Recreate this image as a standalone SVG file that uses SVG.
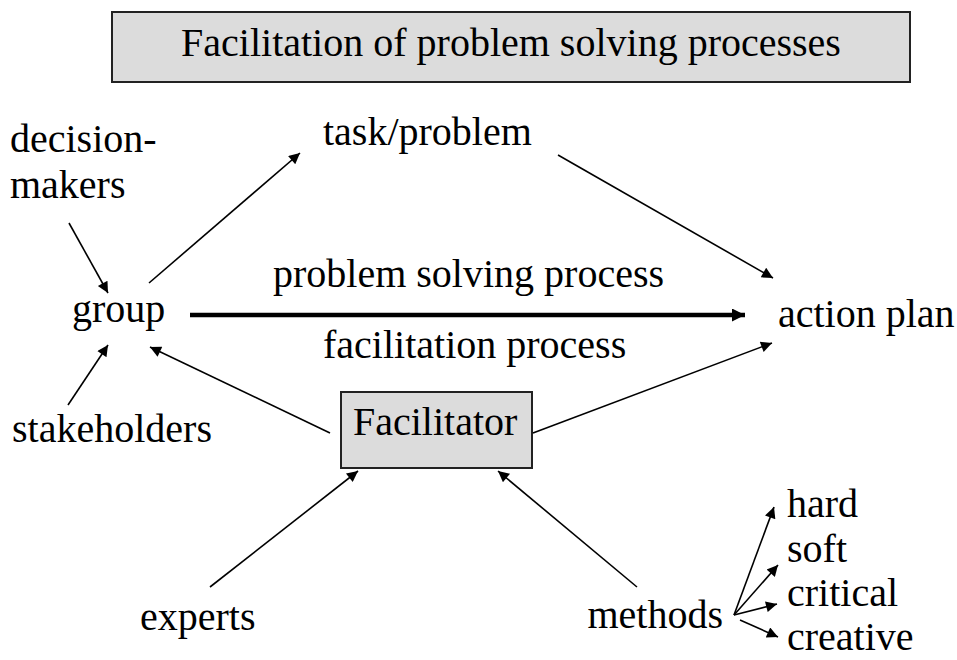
<svg xmlns="http://www.w3.org/2000/svg" width="957" height="660" viewBox="0 0 957 660">
  <style>
    .lbl { font-family: "Liberation Serif", "Times New Roman", "DejaVu Serif", serif; font-size: 40px; fill: #000; }
    .box { fill: #dcdcdc; stroke: #222; stroke-width: 2; }
    .conn { stroke: #000; stroke-width: 1.6; fill: none; marker-end: url(#arrow); }
    .main { stroke: #000; stroke-width: 4.5; fill: none; marker-end: url(#arrowBig); }
  </style>
  <defs>
    <marker id="arrow" viewBox="0 0 10 10" refX="10" refY="5" markerUnits="userSpaceOnUse" markerWidth="15" markerHeight="11" orient="auto">
      <path d="M0,0 L10,5 L0,10 z" fill="#000"/>
    </marker>
    <marker id="arrowBig" viewBox="0 0 10 10" refX="10" refY="5" markerUnits="userSpaceOnUse" markerWidth="16" markerHeight="13" orient="auto">
      <path d="M0,0 L10,5 L0,10 z" fill="#000"/>
    </marker>
  </defs>
  <rect width="957" height="660" fill="#fff"/>

  <!-- heading -->
  <g id="title">
    <rect class="box" x="112" y="12" width="798" height="70"/>
    <text class="lbl" x="511" y="56" text-anchor="middle">Facilitation of problem solving processes</text>
  </g>

  <g id="decision-makers">
    <text class="lbl" x="10" y="152">decision-</text>
    <text class="lbl" x="10" y="198">makers</text>
  </g>
  <g id="task-problem">
    <text class="lbl" x="323" y="145">task/problem</text>
  </g>
  <g id="group">
    <text class="lbl" x="72" y="322">group</text>
  </g>
  <g id="problem-solving-process">
    <text class="lbl" x="273" y="287">problem solving process</text>
  </g>
  <g id="facilitation-process">
    <text class="lbl" x="323" y="358">facilitation process</text>
  </g>
  <g id="action-plan">
    <text class="lbl" x="778" y="327">action plan</text>
  </g>
  <g id="stakeholders">
    <text class="lbl" x="12" y="442">stakeholders</text>
  </g>
  <g id="facilitator">
    <rect class="box" x="341" y="392" width="191" height="76"/>
    <text class="lbl" x="353" y="435">Facilitator</text>
  </g>
  <g id="experts">
    <text class="lbl" x="140" y="630">experts</text>
  </g>
  <g id="methods">
    <text class="lbl" x="723" y="628" text-anchor="end">methods</text>
  </g>
  <g id="hard"><text class="lbl" x="787" y="517">hard</text></g>
  <g id="soft"><text class="lbl" x="787" y="562">soft</text></g>
  <g id="critical"><text class="lbl" x="787" y="606">critical</text></g>
  <g id="creative"><text class="lbl" x="787" y="650">creative</text></g>

  <!-- connectors -->
  <g id="connectors">
    <line class="conn" x1="69" y1="223" x2="108" y2="293"/>
    <line class="conn" x1="149" y1="283" x2="300" y2="153"/>
    <line class="conn" x1="558" y1="155" x2="773" y2="278"/>
    <line class="main" x1="190" y1="315" x2="745" y2="315"/>
    <line class="conn" x1="68" y1="405" x2="108" y2="345"/>
    <line class="conn" x1="330" y1="433" x2="150" y2="347"/>
    <line class="conn" x1="533" y1="433" x2="772" y2="343"/>
    <line class="conn" x1="210" y1="587" x2="358" y2="471"/>
    <line class="conn" x1="637" y1="587" x2="498" y2="471"/>
    <line class="conn" x1="734" y1="615" x2="774" y2="507"/>
    <line class="conn" x1="734" y1="615" x2="778" y2="565"/>
    <line class="conn" x1="734" y1="615" x2="777" y2="604"/>
    <line class="conn" x1="740" y1="620" x2="778" y2="637"/>
  </g>
</svg>
